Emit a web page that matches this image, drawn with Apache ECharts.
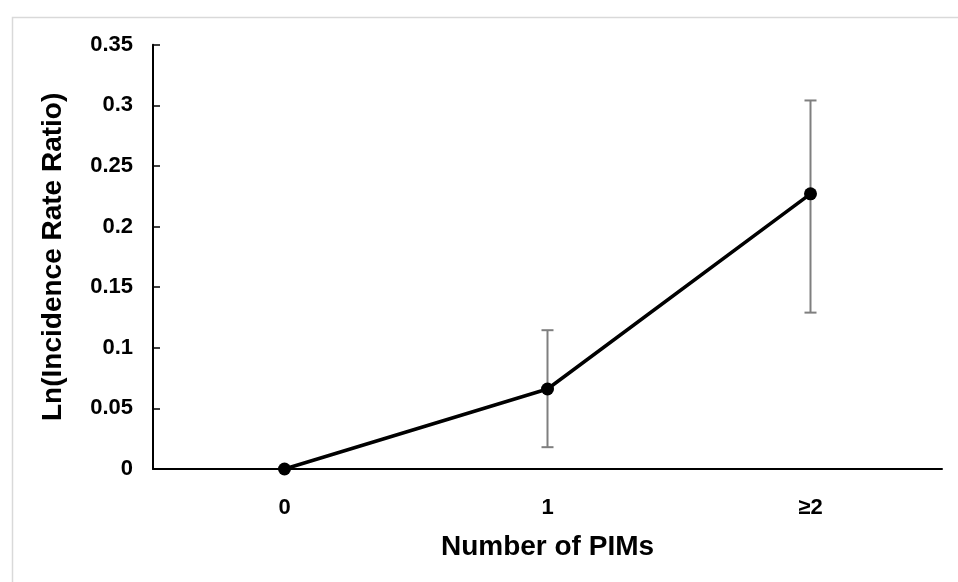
<!DOCTYPE html>
<html>
<head>
<meta charset="utf-8">
<script src="https://cdn.jsdelivr.net/npm/echarts@6/dist/echarts.min.js"></script>
<style>html,body{margin:0;padding:0;background:#fff;}#c{width:958px;height:582px;}</style>
</head>
<body>
<div id="c"></div>
<script>
const categories = ['0', '1', '≥2'];
const values = [0, 0.066, 0.227];
const lowerCI = [0, 0.018, 0.129];
const upperCI = [0, 0.1145, 0.304];
const yTicks = [0, 0.05, 0.1, 0.15, 0.2, 0.25, 0.3, 0.35];

const chart = echarts.init(document.getElementById('c'));
const font = 'Liberation Sans, Arial, sans-serif';
chart.setOption({
  animation: false,
  backgroundColor: '#fff',
  graphic: [{
    type: 'rect', left: 10, top: 15, z: -10,
    shape: { width: 960, height: 580 },
    style: { fill: 'none', stroke: '#d9d9d9', lineWidth: 1.5 }
  }],
  grid: { left: 153, right: 16, top: 44.7, bottom: 113, containLabel: false },
  xAxis: {
    type: 'category', data: categories, boundaryGap: true,
    axisLine: { lineStyle: { color: '#000', width: 2 } },
    axisTick: { show: false },
    axisLabel: { color: '#000', fontFamily: font, fontWeight: 'bold', fontSize: 22, margin: 28 },
    name: 'Number of PIMs', nameLocation: 'middle', nameGap: 64,
    nameTextStyle: { color: '#000', fontFamily: font, fontWeight: 'bold', fontSize: 28 }
  },
  yAxis: {
    type: 'value', min: 0, max: 0.35, interval: 0.05,
    axisLine: { show: true, lineStyle: { color: '#000', width: 2 } },
    axisTick: { show: true, inside: true, length: 7, lineStyle: { color: '#000', width: 1.5 } },
    splitLine: { show: false },
    axisLabel: {
      color: '#000', fontFamily: font, fontWeight: 'bold', fontSize: 22, margin: 20,
      formatter: v => { const t = yTicks.find(x => Math.abs(x - v) < 1e-9); return t === undefined ? '' : String(+t.toFixed(2)); }
    },
    name: 'Ln(Incidence Rate Ratio)', nameLocation: 'middle', nameGap: 86, nameRotate: 90,
    nameTextStyle: { color: '#000', fontFamily: font, fontWeight: 'bold', fontSize: 28 }
  },
  series: [
    {
      type: 'custom', z: 1,
      data: categories.map((c, i) => [i, lowerCI[i], upperCI[i]]),
      renderItem: (params, api) => {
        const i = api.value(0);
        if (api.value(2) - api.value(1) <= 0) return null;
        const lo = api.coord([i, api.value(1)]);
        const hi = api.coord([i, api.value(2)]);
        const w = 6;
        const st = { stroke: '#7f7f7f', lineWidth: 2 };
        return { type: 'group', children: [
          { type: 'line', shape: { x1: lo[0], y1: lo[1], x2: hi[0], y2: hi[1] }, style: st },
          { type: 'line', shape: { x1: lo[0] - w, y1: lo[1], x2: lo[0] + w, y2: lo[1] }, style: st },
          { type: 'line', shape: { x1: hi[0] - w, y1: hi[1], x2: hi[0] + w, y2: hi[1] }, style: st }
        ]};
      }
    },
    {
      type: 'line', z: 3, data: values,
      symbol: 'circle', symbolSize: 13,
      lineStyle: { color: '#000', width: 3.5 },
      itemStyle: { color: '#000' }
    }
  ]
});
</script>
</body>
</html>
